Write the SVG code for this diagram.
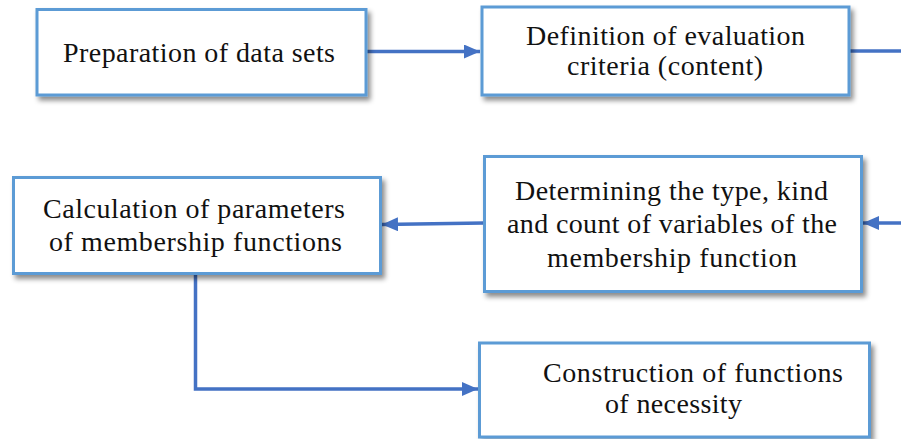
<svg xmlns="http://www.w3.org/2000/svg" width="901" height="439" viewBox="0 0 901 439">
<defs>
<style>
.box{fill:#fff;stroke:#5B9BD5;stroke-width:3;filter:url(#sh)}
.t{font-family:"Liberation Serif","Times New Roman",serif;font-size:28px;fill:#111;text-anchor:start}
.c{fill:none;stroke:#4472C4;stroke-width:3.5}
</style>
<filter id="sh" x="-10%" y="-10%" width="125%" height="130%">
<feDropShadow dx="3" dy="4" stdDeviation="2.5" flood-color="#000" flood-opacity="0.45"/>
</filter>
<marker id="ah" markerUnits="userSpaceOnUse" markerWidth="17" markerHeight="15" refX="16" refY="7" orient="auto">
<path d="M0,0 L16,7 L0,14 z" fill="#4472C4"/>
</marker>
</defs>
<g id="connectors">
<line class="c" x1="367" y1="51.5" x2="480" y2="51.5" marker-end="url(#ah)"/>
<line class="c" x1="850" y1="51" x2="901" y2="51"/>
<line class="c" x1="901" y1="223" x2="863" y2="223" marker-end="url(#ah)"/>
<line class="c" x1="484" y1="223" x2="382" y2="224.5" marker-end="url(#ah)"/>
<polyline class="c" points="195.5,274 195.5,389 478,389" marker-end="url(#ah)"/>
</g>
<g id="n1">
<rect class="box" x="37" y="9.5" width="329" height="85.5"/>
<text class="t" x="63" y="62" textLength="272" lengthAdjust="spacing">Preparation of data sets</text>
</g>
<g id="n2">
<rect class="box" x="482" y="7" width="367" height="88"/>
<text class="t" x="526" y="45" textLength="279" lengthAdjust="spacing">Definition of evaluation</text>
<text class="t" x="567" y="75" textLength="196" lengthAdjust="spacing">criteria (content)</text>
</g>
<g id="n3">
<rect class="box" x="13.5" y="177.5" width="367" height="96"/>
<text class="t" x="43" y="218" textLength="302" lengthAdjust="spacing">Calculation of parameters</text>
<text class="t" x="49" y="251" textLength="293" lengthAdjust="spacing">of membership functions</text>
</g>
<g id="n4">
<rect class="box" x="484.5" y="156.5" width="377" height="135"/>
<text class="t" x="515" y="200" textLength="313" lengthAdjust="spacing">Determining the type, kind</text>
<text class="t" x="507" y="233" textLength="330" lengthAdjust="spacing">and count of variables of the</text>
<text class="t" x="547" y="267" textLength="250" lengthAdjust="spacing">membership function</text>
</g>
<g id="n5">
<rect class="box" x="479.5" y="343" width="390" height="94"/>
<text class="t" x="543" y="381.5" textLength="300" lengthAdjust="spacing">Construction of functions</text>
<text class="t" x="605" y="413" textLength="137" lengthAdjust="spacing">of necessity</text>
</g>
</svg>
